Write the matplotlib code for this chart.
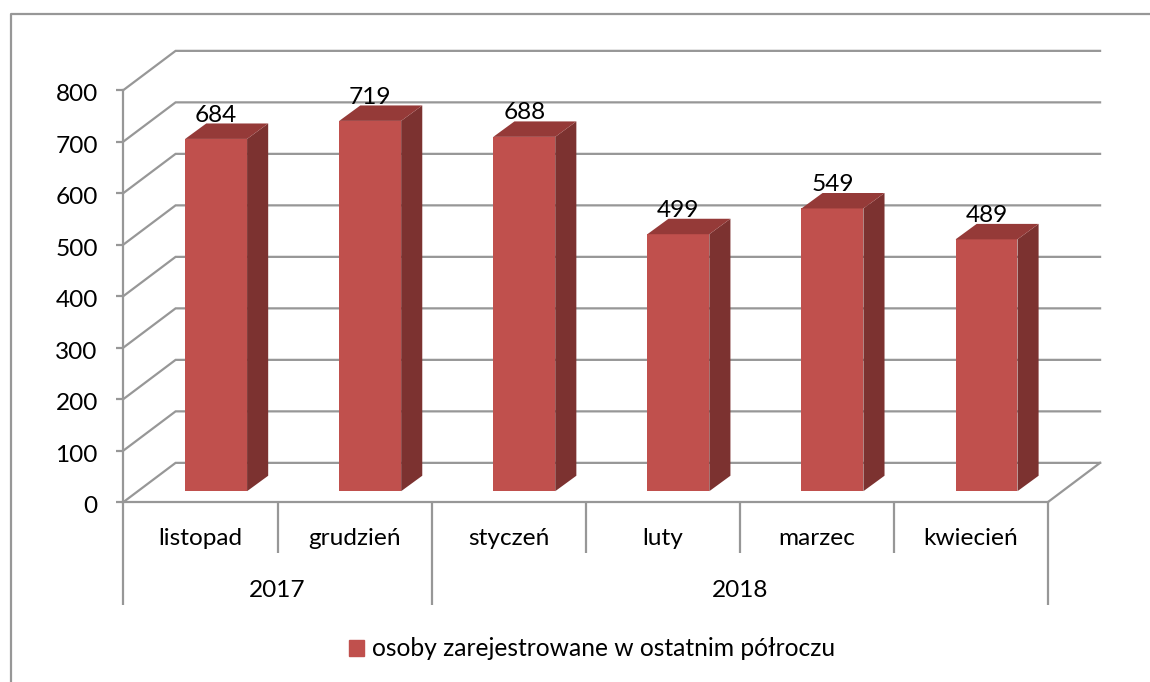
import matplotlib
matplotlib.use('Agg')
import matplotlib.pyplot as plt
from matplotlib.lines import Line2D
from matplotlib.patches import Patch
from matplotlib.transforms import ScaledTranslation

# Data
months = ["listopad", "grudzień", "styczeń", "luty", "marzec", "kwiecień"]
values = [684, 719, 688, 499, 549, 489]
years = ["2017", "2018"]
year_spans = [(0, 2), (2, 6)]
yticks = [0, 100, 200, 300, 400, 500, 600, 700, 800]
series_name = "osoby zarejestrowane w ostatnim półroczu"

GRAY = "#979797"
FRONT = "#C0504D"
SIDE = "#7C3230"
TOP = "#953A38"
FS = 17.6

# 3D look, in data units
wall_dx = 0.338
wall_dy = 76
bar_dx = 0.137
bar_dy = 30
bar_left = 0.4
bar_width = 0.402
bar_base = 21

plt.rcParams['font.family'] = ['Lato', 'DejaVu Sans']
W, H = 1150, 682
fig = plt.figure(figsize=(W / 100, H / 100), dpi=100)
ax = fig.add_axes([123.5 / W, (H - 502) / H, 924.5 / W, 412 / H])
ax.set_xlim(0, 6)
ax.set_ylim(0, 800)
ax.patch.set_visible(False)

# outer frame, runs off the picture on the top and left side
fig.add_artist(Line2D([1, 10.5 / W, 10.5 / W], [(H - 14) / H, (H - 14) / H, 0],
                      color=GRAY, lw=1.6))

# walls
for v in yticks:
    ax.plot([0, wall_dx, 6 + wall_dx], [v, v + wall_dy, v + wall_dy],
            color=GRAY, lw=1.6, clip_on=False, zorder=1, solid_joinstyle='miter')
ax.plot([6, 6 + wall_dx], [0, wall_dy], color=GRAY, lw=1.6, clip_on=False, zorder=1)

# bars
for i, v in enumerate(values):
    x0 = i + bar_left
    x1 = x0 + bar_width
    top = bar_base + v
    ax.bar(x0, v, width=bar_width, bottom=bar_base, align='edge', color=FRONT,
           zorder=3, clip_on=False, label=series_name if i == 0 else None)
    ax.fill([x1, x1 + bar_dx, x1 + bar_dx, x1],
            [bar_base, bar_base + bar_dy, top + bar_dy, top],
            color=SIDE, lw=0, zorder=3, clip_on=False)
    ax.fill([x0, x1, x1 + bar_dx, x0 + bar_dx],
            [top, top, top + bar_dy, top + bar_dy],
            color=TOP, lw=0, zorder=3, clip_on=False)
    ax.annotate(str(v), (x0 + bar_width / 2, top + bar_dy), xytext=(0, -1.5),
                textcoords='offset points', ha='center', va='bottom',
                fontsize=FS, color='black', zorder=5)

# axes
for s in ['top', 'right']:
    ax.spines[s].set_visible(False)
for s in ['left', 'bottom']:
    ax.spines[s].set_color(GRAY)
    ax.spines[s].set_linewidth(1.6)
ax.set_yticks(yticks)
ax.tick_params(axis='y', length=5, width=1.6, color=GRAY, labelsize=FS, pad=13.5)
# labels sit a bit under their ticks
shift = ScaledTranslation(0, -2 / 72, fig.dpi_scale_trans)
for lab in ax.get_yticklabels():
    lab.set_transform(lab.get_transform() + shift)

ax.set_xticks([0, 2, 6])
ax.set_xticks(range(7), minor=True)
ax.set_xticklabels([])
ax.tick_params(axis='x', which='major', length=74, width=1.6, color=GRAY)
ax.tick_params(axis='x', which='minor', length=37, width=1.6, color=GRAY)

for i, m in enumerate(months):
    ax.annotate(m, (i + 0.5, 0), xytext=(0, -26.5), textcoords='offset points',
                ha='center', va='center', fontsize=FS, annotation_clip=False)
for name, (a, b) in zip(years, year_spans):
    ax.annotate(name, ((a + b) / 2, 0), xytext=(0, -63.5), textcoords='offset points',
                ha='center', va='center', fontsize=FS, annotation_clip=False)

fig.legend(handles=[Patch(color=FRONT, label=series_name)], loc='center',
           bbox_to_anchor=(592 / W, (H - 649) / H), frameon=False, fontsize=17.75,
           handlelength=0.61, handleheight=0.61, handletextpad=0.29)

fig.savefig('out.png', dpi=100)
